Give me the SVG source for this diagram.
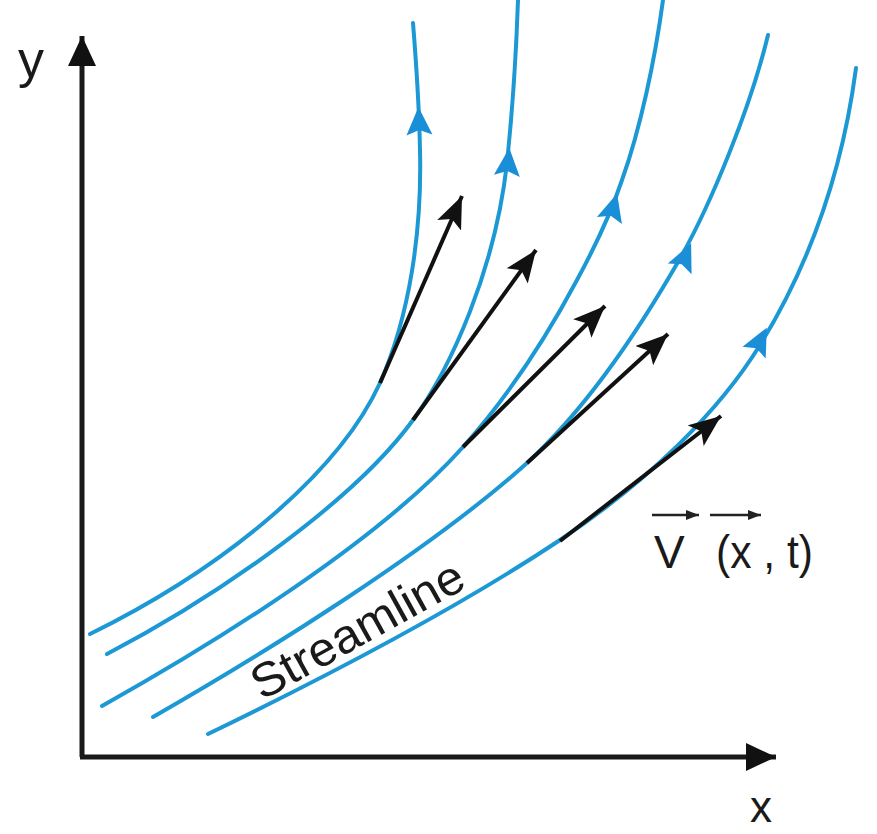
<svg xmlns="http://www.w3.org/2000/svg" width="877" height="834" viewBox="0 0 877 834">
  <defs>
    <marker id="axisHead" markerUnits="userSpaceOnUse" markerWidth="32" markerHeight="30" refX="30" refY="14" orient="auto">
      <path d="M0,0 L30,14 L0,28 Z" fill="#111"/>
    </marker>
    <marker id="velHead" markerUnits="userSpaceOnUse" markerWidth="34" markerHeight="28" refX="32" refY="13" orient="auto">
      <path d="M0,0 L32,13 L0,26 L7,13 Z" fill="#111"/>
    </marker>
    <marker id="smallHead" markerUnits="userSpaceOnUse" markerWidth="14" markerHeight="12" refX="13" refY="5" orient="auto">
      <path d="M0,0 L13,5 L0,10 Z" fill="#222"/>
    </marker>
    <path id="blueHead" d="M0,-15 L13,13 L0,8 L-13,13 Z"/>
  </defs>
  <style>
    .stream { fill: none; stroke: #1c98d4; stroke-width: 4; stroke-linecap: round; }
    .vel { fill: none; stroke: #111; stroke-width: 4; stroke-linecap: butt; }
    .axis { fill: none; stroke: #1a1a1a; stroke-width: 5; }
    .bh { fill: #1a8fd8; }
    .lbl { font-family: "Liberation Sans", Arial, sans-serif; fill: #1a1a1a; }
  </style>
  <rect width="877" height="834" fill="#ffffff"/>

  <g id="axes">
    <path class="axis" d="M82,757 L82,36" marker-end="url(#axisHead)"/>
    <path class="axis" d="M80,757 L776,757" marker-end="url(#axisHead)"/>
  </g>

  <g id="streamlines">
    <path class="stream" d="M90,634 C230,565 340,470 380,383 C410,315 422,230 420,150 C419,100 416,60 413,23"/>
    <path class="stream" d="M107,654 C220,595 355,500 413,420 C451,368 495,270 507,163 C512,115 516,60 518,0"/>
    <path class="stream" d="M102,706 C220,640 380,540 463,447 C505,400 545,340 577,280 C596,245 612,210 622,180 C640,130 655,60 663,0"/>
    <path class="stream" d="M153,717 C270,650 430,550 527,463 C590,405 645,320 682,255 C710,205 750,110 768,35"/>
    <path class="stream" d="M208,734 C340,670 470,600 560,540 C650,480 720,410 760,345 C800,280 840,190 856,68"/>
  </g>

  <g id="flow-arrowheads">
    <use href="#blueHead" class="bh" transform="translate(419,122) rotate(-2)"/>
    <use href="#blueHead" class="bh" transform="translate(508,163) rotate(5)"/>
    <use href="#blueHead" class="bh" transform="translate(613,208) rotate(16)"/>
    <use href="#blueHead" class="bh" transform="translate(685,257) rotate(24)"/>
    <use href="#blueHead" class="bh" transform="translate(760,341) rotate(27)"/>
  </g>

  <g id="velocity-vectors">
    <path class="vel" d="M380,383 L462,196" marker-end="url(#velHead)"/>
    <path class="vel" d="M413,420 L536,250" marker-end="url(#velHead)"/>
    <path class="vel" d="M463,447 L605,306" marker-end="url(#velHead)"/>
    <path class="vel" d="M527,463 L668,334" marker-end="url(#velHead)"/>
    <path class="vel" d="M560,541 L721,416" marker-end="url(#velHead)"/>
  </g>

  <g id="labels">
    <text class="lbl" x="18" y="77" font-size="52">y</text>
    <text class="lbl" x="750" y="822" font-size="44">x</text>
    <text class="lbl" x="0" y="0" font-size="48" textLength="236" lengthAdjust="spacingAndGlyphs" transform="translate(262,701) rotate(-29)">Streamline</text>
    <g id="velocity-label">
      <path d="M652,515 L699,515" stroke="#222" stroke-width="2.5" fill="none" marker-end="url(#smallHead)"/>
      <path d="M710,515 L761,515" stroke="#222" stroke-width="2.5" fill="none" marker-end="url(#smallHead)"/>
      <text class="lbl" x="654" y="568" font-size="46">V</text>
      <text class="lbl" x="716" y="568" font-size="46" textLength="97" lengthAdjust="spacingAndGlyphs">(x , t)</text>
    </g>
  </g>
</svg>
